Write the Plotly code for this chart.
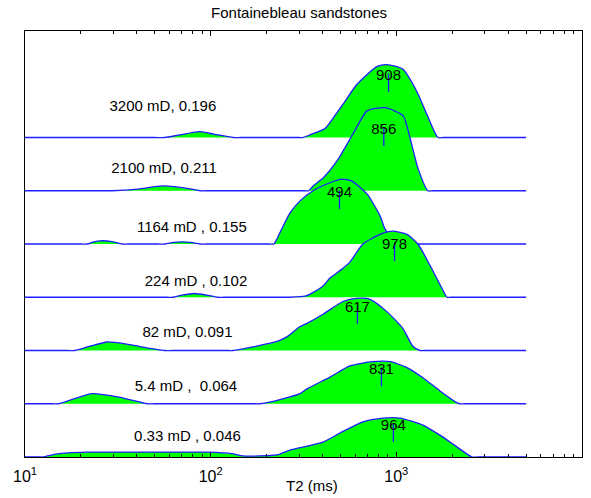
import plotly.graph_objects as go

# ---------------- data ----------------
samples = ["3200 mD, 0.196", "2100 mD, 0.211", "1164 mD , 0.155", "224 mD , 0.102",
           "82 mD, 0.091", "5.4 mD ,\u00a0 0.064", "0.33 mD , 0.046"]
t2_mean = [908, 856, 494, 978, 617, 831, 964]
offsets = [6, 5, 4, 3, 2, 1, 0]

t2_s1 = [10, 50, 56.8, 68.4, 87.5, 105, 132, 145, 300, 314, 343, 413, 456, 515, 614, 785, 889, 1086, 1291, 1462, 1675, 1800, 5000]
h_s1 = [0, 0, 0, 0.05, 0.11, 0.06, 0, 0, 0, 0, 0.05, 0.17, 0.36, 0.62, 1.0, 1.33, 1.37, 1.28, 0.86, 0.43, 0, 0, 0]

t2_s2 = [10, 27, 29.4, 40.6, 55.3, 79.2, 87.5, 95, 320, 338, 356, 403, 479, 598, 695, 869, 1086, 1183, 1306, 1479, 1580, 5000]
h_s2 = [0, 0, 0, 0.03, 0.09, 0.03, 0, 0, 0, 0, 0.09, 0.24, 0.56, 1.13, 1.5, 1.56, 1.41, 1.0, 0.43, 0, 0, 0]

t2_s3 = [10, 20, 21.6, 23.5, 25.4, 29, 33.3, 36, 52, 56.8, 63, 70, 78, 87.5, 95, 205, 219, 236, 267, 303, 356,
         439, 509, 577, 695, 817, 869, 959, 1072, 1150, 5000]
h_s3 = [0, 0, 0, 0.04, 0.06, 0.05, 0, 0, 0, 0, 0.03, 0.04, 0.03, 0, 0, 0, 0, 0.21, 0.58, 0.81, 1.0,
        1.15, 1.22, 1.18, 0.94, 0.53, 0.28, 0.1, 0, 0, 0]

t2_s4 = [10, 58, 62.7, 70, 82.2, 95, 109, 118, 250, 267, 322, 343, 403, 439, 497, 562, 661, 817, 959, 1140,
         1306, 1517, 1718, 1875, 1960, 5000]
h_s4 = [0, 0, 0, 0.04, 0.07, 0.04, 0, 0, 0, 0, 0.02, 0.06, 0.21, 0.36, 0.5, 0.66, 1.0, 1.18, 1.24, 1.18,
        1.0, 0.6, 0.24, 0, 0, 0]

t2_s5 = [10, 17, 18.6, 22.4, 27.7, 36.7, 47.1, 56.8, 62, 125, 132, 228, 258, 303, 330, 403, 515, 614, 721,
         889, 1086, 1227, 1340, 1420, 5000]
h_s5 = [0, 0, 0, 0.08, 0.16, 0.11, 0.04, 0, 0, 0, 0, 0.17, 0.26, 0.45, 0.51, 0.68, 0.92, 0.98, 0.96,
        0.73, 0.41, 0.08, 0, 0, 0]

t2_s6 = [10, 14, 15.1, 18.6, 23, 32.5, 45.4, 50, 170, 184, 201, 303, 330, 439, 562, 748, 925, 1140, 1390,
         1718, 2118, 2198, 2350, 5000]
h_s6 = [0, 0, 0, 0.1, 0.19, 0.12, 0, 0, 0, 0, 0.02, 0.19, 0.28, 0.5, 0.71, 0.79, 0.79, 0.68, 0.49,
        0.24, 0.02, 0, 0, 0]

t2_s7 = [10, 12, 12.5, 14.9, 21.6, 45.4, 95.5, 132, 149, 228, 267, 403, 497, 661, 847, 1045, 1390, 1718,
         2118, 2553, 2750, 5000]
h_s7 = [0, 0, 0, 0.06, 0.09, 0.09, 0.09, 0.06, 0.02, 0.04, 0.13, 0.28, 0.45, 0.66, 0.73, 0.73, 0.6, 0.41,
        0.19, 0, 0, 0]

# label positions (data coords)
label_t2 = [55.3, 56.1, 79.2, 83.4, 75.0, 73.6, 75.0]
label_y = [6.57, 5.41, 4.30, 3.29, 2.33, 1.31, 0.38]
mean_y = [7.155, 6.14, 4.96, 3.98, 2.80, 1.63, 0.58]

x_ticks = [10, 100, 1000, 10000]
x_ticktext = ["10<sup>1</sup>", "10<sup>2</sup>", "10<sup>3</sup>", "10<sup>4</sup>"]
minor_ticks = [m * 10 ** e for e in (1, 2, 3) for m in range(2, 10)]

all_t2 = [t2_s1, t2_s2, t2_s3, t2_s4, t2_s5, t2_s6, t2_s7]
all_h = [h_s1, h_s2, h_s3, h_s4, h_s5, h_s6, h_s7]

GREEN = "#00ff00"
BLUE = "rgb(30,30,255)"
FONT = "Liberation Sans, Arial, sans-serif"

fig = go.Figure()
for t2, h, off in zip(all_t2, all_h, offsets):
    fig.add_trace(go.Scatter(x=[t2[0], t2[-1]], y=[off, off], mode="lines",
                             line=dict(width=0, color=BLUE), hoverinfo="skip", showlegend=False))
    fig.add_trace(go.Scatter(x=t2, y=[off + v for v in h], mode="lines",
                             line=dict(color=BLUE, width=1.3, shape="spline", smoothing=0.6),
                             fill="tonexty", fillcolor=GREEN, showlegend=False))

for tm, ym in zip(t2_mean, mean_y):
    fig.add_trace(go.Scatter(x=[tm, tm], y=[ym + 0.05, ym - 0.3], mode="lines",
                             line=dict(color=BLUE, width=1.3), showlegend=False))
    fig.add_trace(go.Scatter(x=[tm], y=[ym], mode="text", text=[str(tm)],
                             textposition="middle center",
                             textfont=dict(family=FONT, size=15, color="black"), showlegend=False))

fig.add_trace(go.Scatter(x=label_t2, y=label_y, mode="text", text=samples,
                         textposition="middle center",
                         textfont=dict(family=FONT, size=15, color="black"), showlegend=False))

fig.update_layout(
    width=591, height=498,
    margin=dict(l=25, r=9, t=31, b=41),
    paper_bgcolor="white", plot_bgcolor="white",
    title=dict(text="Fontainebleau sandstones", x=0.506, xref="container", xanchor="center",
               y=1 - 13 / 498, yref="container", yanchor="middle",
               font=dict(family=FONT, size=15, color="black")),
    xaxis=dict(type="log", range=[1, 4], showgrid=False, zeroline=False,
               showline=True, linecolor="black", linewidth=1, mirror="allticks",
               ticks="inside", ticklen=5, tickcolor="black",
               tickvals=x_ticks, ticktext=x_ticktext, ticklabelstandoff=5,
               tickfont=dict(family=FONT, size=16, color="black"),
               minor=dict(tickvals=minor_ticks, ticks="inside", ticklen=3, tickcolor="black", showgrid=False)),
    yaxis=dict(range=[0, 8], showgrid=False, zeroline=False, showline=True,
               linecolor="black", linewidth=1, mirror=True, ticks="", showticklabels=False),
    annotations=[dict(text="T2 (ms)", x=0.515, xref="paper", y=-(485 - 457) / 426, yref="paper",
                      yanchor="middle", showarrow=False,
                      font=dict(family=FONT, size=15, color="black"))],
)

fig.write_html("out.html")
